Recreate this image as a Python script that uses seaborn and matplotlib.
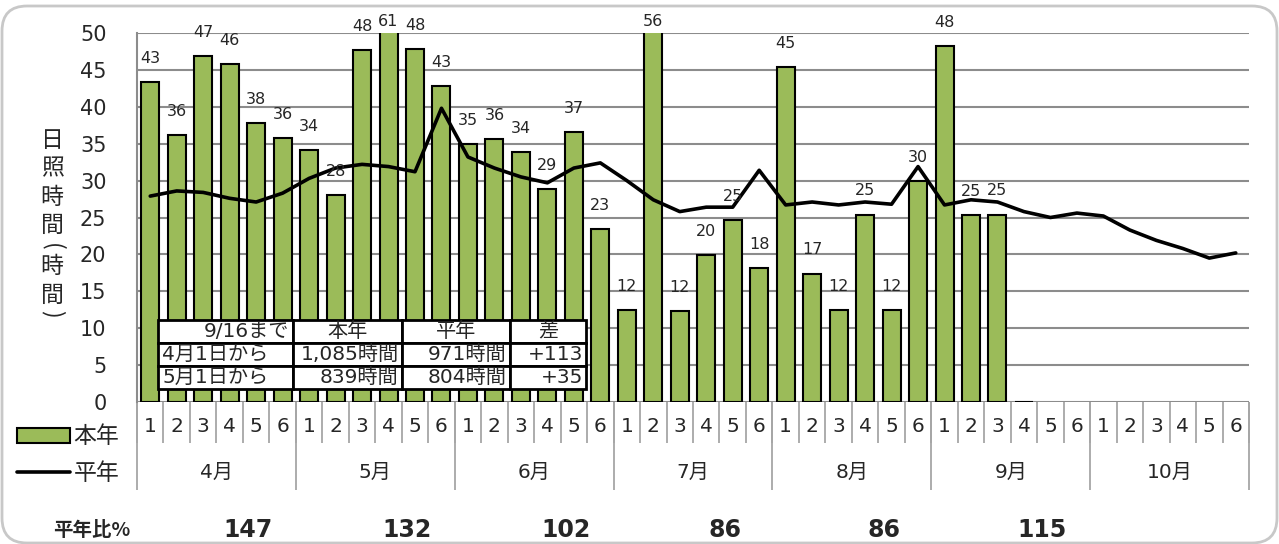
import numpy as np
import pandas as pd
import matplotlib
matplotlib.use("Agg")
import matplotlib.pyplot as plt
import matplotlib.transforms as mtransforms
from matplotlib.patches import FancyBboxPatch, Patch
from matplotlib.lines import Line2D
import seaborn as sns

sns.set_style("white")
plt.rcParams["font.family"] = ["DejaVu Sans", "Noto Sans CJK JP"]

# ---------------------------------------------------------------
# data (半旬ごとの日照時間)
# ---------------------------------------------------------------
months = ["4月", "5月", "6月", "7月", "8月", "9月", "10月"]
days = ["1", "2", "3", "4", "5", "6"]

this_year = [43.4, 36.2, 46.9, 45.8, 37.8, 35.8,
             34.1, 28.0, 47.7, 61.0, 47.8, 42.8,
             35.0, 35.6, 33.9, 28.8, 36.6, 23.4,
             12.4, 56.0, 12.3, 19.9, 24.7, 18.2,
             45.4, 17.4, 12.4, 25.4, 12.4, 29.9,
             48.2, 25.3, 25.4, 0.0]

normal = [27.9, 28.6, 28.4, 27.6, 27.1, 28.3,
          30.3, 31.7, 32.2, 31.9, 31.2, 39.8,
          33.2, 31.7, 30.5, 29.7, 31.7, 32.4,
          30.0, 27.4, 25.8, 26.4, 26.4, 31.4,
          26.7, 27.1, 26.7, 27.1, 26.8, 31.9,
          26.7, 27.4, 27.1, 25.8, 25.0, 25.6,
          25.2, 23.3, 21.9, 20.8, 19.5, 20.2]

ratio = [147, 132, 102, 86, 86, 115]

table_header = ["9/16まで", "本年", "平年", "差"]
table_rows = [["4月1日から", "1,085時間", "971時間", "+113"],
              ["5月1日から", "839時間", "804時間", "+35"]]

n_slots = len(months) * len(days)
bar_df = pd.DataFrame({"slot": range(len(this_year)), "hours": this_year})
line_df = pd.DataFrame({"slot": range(len(normal)), "hours": normal})

GREEN = "#9BBB59"
GRID = "#8c8c8c"
SEP = "#a6a6a6"
JP = ["Noto Sans CJK JP"]

# ---------------------------------------------------------------
# figure
# ---------------------------------------------------------------
fig = plt.figure(figsize=(12.79, 5.44), dpi=100)
ax = fig.add_axes([137 / 1279, 1 - 402 / 544, 1112 / 1279, 369 / 544])

sns.barplot(data=bar_df, x="slot", y="hours", order=list(range(n_slots)),
            color=GREEN, edgecolor="black", linewidth=1.5, width=0.68,
            saturation=1, errorbar=None, ax=ax, zorder=3)
sns.lineplot(data=line_df, x="slot", y="hours", color="black", lw=2.6,
             ax=ax, zorder=4)

ax.set_xlim(-0.5, n_slots - 0.5)
ax.set_ylim(0, 50)
ax.set_yticks(range(0, 51, 5))
ax.yaxis.grid(True, color=GRID, lw=1.5, zorder=0)
ax.set_axisbelow(True)
for s in ["top", "right", "bottom"]:
    ax.spines[s].set_visible(False)
ax.spines["left"].set_color(GRID)
ax.spines["left"].set_linewidth(1.5)
ax.tick_params(axis="y", length=7, width=1.5, color=GRID, labelsize=15, pad=15)
ax.set_xlabel("")
ax.set_ylabel("")

# day ticks
ax.set_xticks(range(n_slots))
ax.set_xticklabels(days * len(months), fontsize=14.5)
ax.tick_params(axis="x", length=0, pad=11)

# data labels
for i, v in enumerate(this_year):
    if v <= 0:
        continue
    ax.text(i, min(v, 48.3) + 3.2, f"{round(v)}", ha="center", va="center",
            fontsize=11.5, zorder=5)

# category table lines below axis
xt = ax.get_xaxis_transform()
ax.vlines(np.arange(n_slots + 1) - 0.5, -0.111, 0, transform=xt,
          colors=SEP, lw=1.3, clip_on=False)
ax.vlines(np.arange(0, n_slots + 1, len(days)) - 0.5, -0.2385, 0, transform=xt,
          colors=SEP, lw=1.3, clip_on=False)
for k, m in enumerate(months):
    ax.text(k * len(days) + 2.5, -0.192, m, transform=xt, ha="center",
            va="center", fontsize=14.5)

# 平年比 row
ft = mtransforms.blended_transform_factory(ax.transData, fig.transFigure)
fig.text(92 / 1279, 1 - 530 / 544, "平年比%", ha="center", va="center",
         fontsize=14, fontweight="bold", family=JP)
for k, r in enumerate(ratio):
    ax.text(k * len(days) + 3.7, 1 - 530 / 544, str(r), transform=ft,
            ha="center", va="center", fontsize=17, fontweight="bold")

# y label: 日照時間(時間), stacked vertically
ylab_x = 52 / 1279
fig.text(ylab_x, 1 - 183 / 544, "日\n照\n時\n間", ha="center", va="center",
         fontsize=16.5, linespacing=1.3, family=JP)
fig.text(ylab_x, 1 - 247 / 544, "(", ha="center", va="center",
         fontsize=16.5, rotation=-90, family=JP)
fig.text(ylab_x, 1 - 281 / 544, "時\n間", ha="center", va="center",
         fontsize=16.5, linespacing=1.3, family=JP)
fig.text(ylab_x, 1 - 314 / 544, ")", ha="center", va="center",
         fontsize=16.5, rotation=-90, family=JP)

# summary table
tbl = ax.table(cellText=[table_header] + table_rows,
               bbox=[21 / 1112, 13 / 369, 428 / 1112, 69 / 369],
               colWidths=[135, 109, 108, 76], cellLoc="right", zorder=6)
tbl.auto_set_font_size(False)
tbl.set_fontsize(14.5)
for (r, c), cell in tbl.get_celld().items():
    cell.set_edgecolor("black")
    cell.set_linewidth(2)
    cell.set_facecolor("white")
    cell.PAD = 0.03
    if r == 0 and c > 0:
        cell.get_text().set_ha("center")
    elif r > 0 and c == 0:
        cell.get_text().set_ha("left")

# legend
handles = [Patch(facecolor=GREEN, edgecolor="black", lw=1.5),
           Line2D([], [], color="black", lw=2.6)]
fig.legend(handles, ["本年", "平年"], loc="upper left",
           bbox_to_anchor=(6 / 1279, 1 - 414 / 544), frameon=False,
           handlelength=2.3, handleheight=0.68,
           handletextpad=0.15, labelspacing=0.6, borderpad=0,
           prop={"family": JP, "size": 16.5})

# rounded border around the chart
border = FancyBboxPatch((2, 1), 1275, 537, boxstyle="round,pad=0,rounding_size=25",
                        transform=mtransforms.IdentityTransform(),
                        facecolor="none", edgecolor="#c8c8c8", lw=2)
fig.add_artist(border)

fig.savefig("out.png", dpi=100)
